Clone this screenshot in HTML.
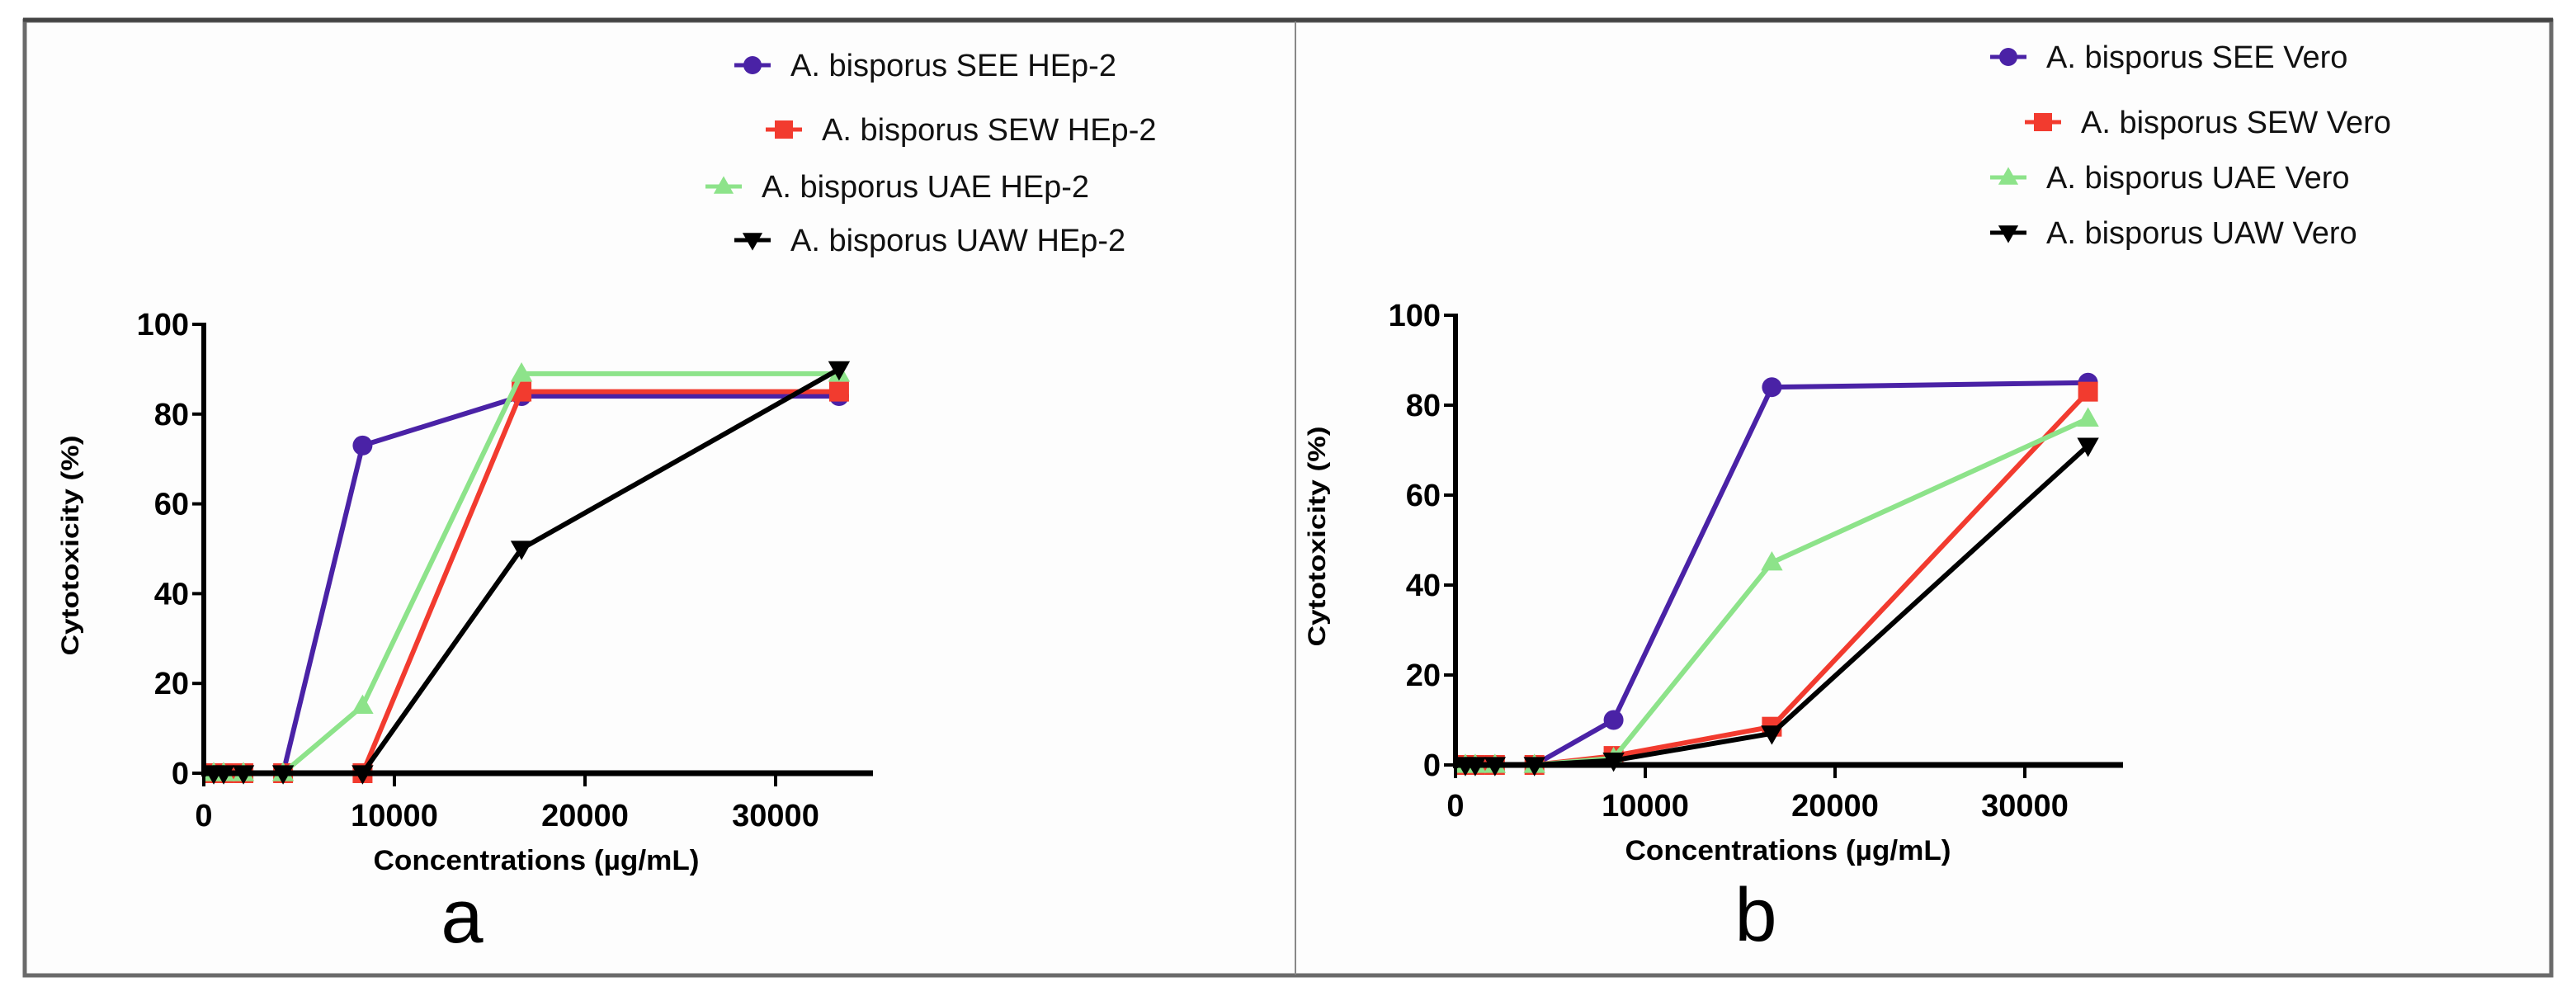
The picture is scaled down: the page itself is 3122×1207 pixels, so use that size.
<!DOCTYPE html>
<html><head><meta charset="utf-8"><style>
html,body{margin:0;padding:0;background:#fff;}
svg{display:block;font-family:"Liberation Sans",sans-serif;}
</style></head><body>
<svg id="root" width="3122" height="1207" viewBox="0 0 3122 1207" xmlns="http://www.w3.org/2000/svg">
<rect x="0" y="0" width="3122" height="1207" fill="#fff"/>
<rect x="30" y="25" width="3062" height="1157" fill="#fdfdfd" stroke="#6a6a6a" stroke-width="5"/>
<line x1="28" y1="24" x2="3094" y2="24" stroke="#444" stroke-width="5"/>
<line x1="1570" y1="26" x2="1570" y2="1181" stroke="#888" stroke-width="2"/>
<g id="panelA"></g>
<g id="panelB"></g>
</svg>
<script>
const conc = [520, 1040, 2080, 4160, 8330, 16670, 33330];
const xTicks = [0, 10000, 20000, 30000];
const yTicks = [0, 20, 40, 60, 80, 100];
const heSEE = [0, 0, 0, 0, 73, 84, 84];
const heSEW = [0, 0, 0, 0, 0, 85, 85];
const heUAE = [0, 0, 0, 0, 15, 89, 89];
const heUAW = [0, 0, 0, 0, 0, 50, 90];
const veSEE = [0, 0, 0, 0, 10, 84, 85];
const veSEW = [0, 0, 0, 0, 2, 8.5, 83];
const veUAE = [0, 0, 0, 0, 1.5, 45, 77];
const veUAW = [0, 0, 0, 0, 1, 7, 71];
const namesA = ["A. bisporus SEE HEp-2","A. bisporus SEW HEp-2","A. bisporus UAE HEp-2","A. bisporus UAW HEp-2"];
const namesB = ["A. bisporus SEE Vero","A. bisporus SEW Vero","A. bisporus UAE Vero","A. bisporus UAW Vero"];

const NS="http://www.w3.org/2000/svg";
const colors=["#4a22a6","#f23b2f","#8de38a","#000"];
const shapes=["circle","square","triangle","tridown"];
function mk(tag,attrs,parent){const e=document.createElementNS(NS,tag);for(const k in attrs)e.setAttribute(k,attrs[k]);parent.appendChild(e);return e;}
function marker(g,shape,cx,cy,r,col){
  let e;
  if(shape==="circle") e=mk("circle",{cx:cx,cy:cy,r:r,fill:col},g);
  else if(shape==="square") e=mk("rect",{x:cx-r,y:cy-r,width:2*r,height:2*r,fill:col},g);
  else if(shape==="triangle") e=mk("polygon",{points:`${cx},${cy-r*1.15} ${cx-r*1.1},${cy+r*0.8} ${cx+r*1.1},${cy+r*0.8}`,fill:col},g);
  else e=mk("polygon",{points:`${cx},${cy+r*1.15} ${cx-r*1.1},${cy-r*0.8} ${cx+r*1.1},${cy-r*0.8}`,fill:col},g);
  return e;
}
function drawPanel(g,cfg){
  const X=v=>cfg.x0+v/10000*cfg.px10k;
  const Y=v=>cfg.y0-(v/100)*(cfg.y0-cfg.y100);
  cfg.series.forEach((s,si)=>{
    const sg=mk("g",{},g);
    
    
    const pts=conc.map((c,i)=>X(c)+","+Y(s[i])).join(" ");
    const pl=mk("polyline",{points:pts,fill:"none",stroke:colors[si],"stroke-width":6,"stroke-linejoin":"round"},sg);
    
    
    conc.forEach((c,i)=>{
      const m=marker(sg,shapes[si],X(c),Y(s[i]),12,colors[si]);
      
      
    });
  });
  const ax=mk("g",{},g);
  
  
  mk("line",{x1:cfg.x0,y1:cfg.y100-2,x2:cfg.x0,y2:cfg.y0+4,stroke:"#000","stroke-width":6},ax);
  mk("line",{x1:cfg.x0-3,y1:cfg.y0,x2:cfg.xEnd,y2:cfg.y0,stroke:"#000","stroke-width":7},ax);
  yTicks.forEach(t=>{
    mk("line",{x1:cfg.x0-14,y1:Y(t),x2:cfg.x0,y2:Y(t),stroke:"#000","stroke-width":4},ax);
    const tx=mk("text",{x:cfg.x0-18,y:Y(t)+13,"text-anchor":"end","font-size":38,"font-weight":"bold",fill:"#000"},ax);
    tx.textContent=t;
    
    
  });
  xTicks.forEach(t=>{
    mk("line",{x1:X(t),y1:cfg.y0,x2:X(t),y2:cfg.y0+16,stroke:"#000","stroke-width":4},ax);
    const tx=mk("text",{x:X(t),y:cfg.tickBase,"text-anchor":"middle","font-size":38,"font-weight":"bold",fill:"#000"},ax);
    tx.textContent=t;
    
    
  });
  const xt=mk("text",{x:cfg.xtX,y:cfg.xtY,"text-anchor":"middle","font-size":34,"font-weight":"bold",textLength:395,lengthAdjust:"spacingAndGlyphs"},g);
  xt.textContent="Concentrations (µg/mL)";
  
  
  const yt=mk("text",{x:0,y:0,"text-anchor":"middle","font-size":30,"font-weight":"bold",textLength:267,lengthAdjust:"spacingAndGlyphs",transform:`translate(${cfg.ytX},${cfg.ytY}) rotate(-90)`},g);
  yt.textContent="Cytotoxicity (%)";
  
  
  const pl=mk("text",{x:cfg.lblX,y:cfg.lblY,"text-anchor":"middle","font-size":92},g);
  pl.textContent=cfg.label;
  
  
  const lg=mk("g",{},g);
  
  
  cfg.legend.forEach((p,i)=>{
    const eg=mk("g",{},lg);
    
    
    mk("line",{x1:p[0]-22,y1:p[1],x2:p[0]+22,y2:p[1],stroke:colors[i],"stroke-width":5},eg);
    marker(eg,shapes[i],p[0],p[1],11,colors[i]);
    const t=mk("text",{x:p[0]+46,y:p[1]+13,"font-size":38,fill:"#111"},eg);
    t.textContent=cfg.names[i];
  });
}
drawPanel(document.getElementById("panelA"),{
  x0:247,px10k:231,y0:937,y100:393,xEnd:1058,tickBase:1001,
  xtX:650,xtY:1054,ytX:95,ytY:661,lblX:560,lblY:1142,label:"a",
  series:[heSEE,heSEW,heUAE,heUAW],keys:["see","sew","uae","uaw"],names:namesA,
  legend:[[912,79],[950,157],[877,226],[912,291]]
});
drawPanel(document.getElementById("panelB"),{
  x0:1764,px10k:230,y0:927,y100:382,xEnd:2573,tickBase:989,
  xtX:2167,xtY:1042,ytX:1606,ytY:650,lblX:2128,lblY:1140,label:"b",
  series:[veSEE,veSEW,veUAE,veUAW],keys:["see","sew","uae","uaw"],names:namesB,
  legend:[[2434,69],[2476,148],[2434,215],[2434,282]]
});
</script>
</body></html>
